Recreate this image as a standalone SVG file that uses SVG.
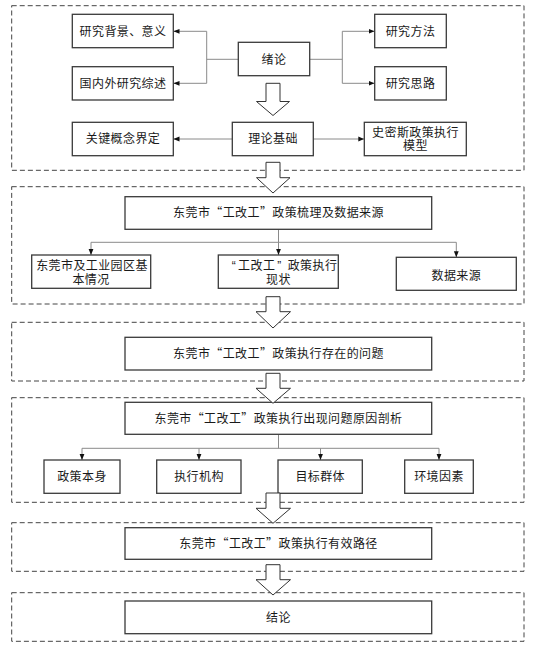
<svg xmlns="http://www.w3.org/2000/svg" width="548" height="652" viewBox="0 0 548 652">
<style>
.sec{fill:none;stroke:#444;stroke-width:1;stroke-dasharray:5 3}
.box{fill:#fff;stroke:#3a3a3a;stroke-width:1.3}
.t{font-family:"Noto Sans CJK SC","Noto Sans",sans-serif;font-size:12px;fill:#1a1a1a;text-anchor:middle;letter-spacing:0.4px}
.t2{font-family:"Liberation Sans","Noto Sans CJK SC",sans-serif;font-size:12px;fill:#1a1a1a;text-anchor:middle;letter-spacing:0.4px}
.c{fill:none;stroke:#8a8a8a;stroke-width:1}
.big{fill:#fff;stroke:#333;stroke-width:1}
</style>
<defs>
<marker id="ah" markerUnits="userSpaceOnUse" markerWidth="6" markerHeight="6" viewBox="0 0 6 6" refX="6" refY="3" orient="auto">
<path d="M0,0.6 L6,3 L0,5.4 Z" fill="#111"/>
</marker>
</defs>
<rect fill="#fff" width="548" height="652"/>
<g id="sections">
<rect class="sec" x="11.7" y="5.7" width="512.3" height="164.6"/>
<rect class="sec" x="11.7" y="186.7" width="512.3" height="117.3"/>
<rect class="sec" x="11.7" y="322.3" width="512.3" height="58.7"/>
<rect class="sec" x="11.7" y="397.7" width="512.3" height="104.6"/>
<rect class="sec" x="11.7" y="522.7" width="512.3" height="48.6"/>
<rect class="sec" x="11.7" y="592.7" width="512.3" height="48.6"/>
</g>
<g id="connectors">
<path class="c" d="M238.3,59.3 H206.7"/>
<path class="c" d="M206.7,31.3 V83.3"/>
<path class="c" d="M206.7,31.3 H173.5" marker-end="url(#ah)"/>
<path class="c" d="M206.7,83.3 H173.5" marker-end="url(#ah)"/>
<path class="c" d="M309.7,59.3 H342.3"/>
<path class="c" d="M342.3,31.3 V83.3"/>
<path class="c" d="M342.3,31.3 H374.5" marker-end="url(#ah)"/>
<path class="c" d="M342.3,83.3 H374.5" marker-end="url(#ah)"/>
<path class="c" d="M232.3,139 H173.5" marker-end="url(#ah)"/>
<path class="c" d="M313.3,139 H364.3" marker-end="url(#ah)"/>
<path class="c" d="M278.5,229.3 V242.3"/>
<path class="c" d="M91,242.3 H456.3"/>
<path class="c" d="M91,242.3 V255" marker-end="url(#ah)"/>
<path class="c" d="M278.5,242.3 V255" marker-end="url(#ah)"/>
<path class="c" d="M456.3,242.3 V257.3" marker-end="url(#ah)"/>
<path class="c" d="M278.5,434.3 V448.3"/>
<path class="c" d="M82,448.3 H439"/>
<path class="c" d="M82,448.3 V460" marker-end="url(#ah)"/>
<path class="c" d="M199,448.3 V460" marker-end="url(#ah)"/>
<path class="c" d="M320.5,448.3 V460" marker-end="url(#ah)"/>
<path class="c" d="M439,448.3 V460" marker-end="url(#ah)"/>
</g>
<g id="n-bg"><rect class="box" x="72.3" y="14.3" width="101" height="33.4"/><text class="t" x="123" y="35.5">研究背景、意义</text></g>
<g id="n-lit"><rect class="box" x="72.3" y="66.7" width="101" height="33.3"/><text class="t" x="123" y="87.6">国内外研究综述</text></g>
<g id="n-intro"><rect class="box" x="238.3" y="42.3" width="71.4" height="33.4"/><text class="t" x="274" y="63.6">绪论</text></g>
<g id="n-method"><rect class="box" x="374.7" y="14.3" width="71.6" height="33.4"/><text class="t" x="410.5" y="35.5">研究方法</text></g>
<g id="n-idea"><rect class="box" x="374.7" y="66.7" width="71.6" height="33.3"/><text class="t" x="410.5" y="87.6">研究思路</text></g>
<g id="n-concept"><rect class="box" x="72.3" y="122.3" width="101" height="33.4"/><text class="t" x="123" y="143.4">关键概念界定</text></g>
<g id="n-theory"><rect class="box" x="232.3" y="122.3" width="81" height="33.4"/><text class="t" x="273" y="143.4">理论基础</text></g>
<g id="n-smith"><rect class="box" x="364.3" y="122.3" width="102" height="33.4"/><text class="t2" x="415.5" y="136.6">史密斯政策执行</text><text class="t2" x="415.5" y="150.3">模型</text></g>
<g id="n-policy"><rect class="box" x="125" y="196.7" width="306.7" height="32.6"/><text class="t" x="278.5" y="217.2">东莞市“工改工”政策梳理及数据来源</text></g>
<g id="n-city"><rect class="box" x="31.7" y="255" width="119" height="33.3"/><text class="t2" x="92" y="270.2">东莞市及工业园区基</text><text class="t2" x="91" y="283.8">本情况</text></g>
<g id="n-status"><rect class="box" x="218.3" y="255" width="120" height="33.3"/><text class="t2" x="278.5" y="270.2" dx="6 2 0 0 2 6 0 0 0">“工改工”政策执行</text><text class="t2" x="278.5" y="283.8">现状</text></g>
<g id="n-data"><rect class="box" x="396.3" y="257.3" width="120" height="33"/><text class="t" x="456.3" y="279.8">数据来源</text></g>
<g id="n-problem"><rect class="box" x="125" y="337.3" width="306.7" height="32.7"/><text class="t" x="278.5" y="357.8">东莞市“工改工”政策执行存在的问题</text></g>
<g id="n-cause"><rect class="box" x="125" y="402.3" width="306.7" height="32"/><text class="t" x="278.5" y="422.5">东莞市“工改工”政策执行出现问题原因剖析</text></g>
<g id="n-self"><rect class="box" x="44" y="460" width="76" height="33.3"/><text class="t" x="82" y="480.8">政策本身</text></g>
<g id="n-org"><rect class="box" x="156.7" y="460" width="84.3" height="33.3"/><text class="t" x="199" y="480.8">执行机构</text></g>
<g id="n-target"><rect class="box" x="278" y="460" width="84.3" height="33.3"/><text class="t" x="320.2" y="480.8">目标群体</text></g>
<g id="n-env"><rect class="box" x="404.7" y="460" width="68.6" height="33.3"/><text class="t" x="439" y="480.8">环境因素</text></g>
<g id="n-path"><rect class="box" x="125" y="527.7" width="306.7" height="31.6"/><text class="t" x="278.5" y="547.7">东莞市“工改工”政策执行有效路径</text></g>
<g id="n-concl"><rect class="box" x="125" y="601" width="306.7" height="32.7"/><text class="t" x="278.5" y="621.5">结论</text></g>
<g id="flow-arrows">
<path class="big" d="M266,83.3 H280 V101.5 H289.5 L273,115.5 L256.5,101.5 H266 Z"/>
<path class="big" d="M266,162.3 H280 V177.7 H290 L273,193 L256.5,177.7 H266 Z"/>
<path class="big" d="M266,296.7 H280 V311.7 H290.5 L273,328 L256,311.7 H266 Z"/>
<path class="big" d="M266,373.3 H280 V388.3 H290.5 L273,403.3 L256,388.3 H266 Z"/>
<path class="big" d="M266,493 H280 V508.3 H290.5 L273,523.3 L256,508.3 H266 Z"/>
<path class="big" d="M266,564.7 H280 V579.7 H290.5 L273,595 L256,579.7 H266 Z"/>
</g>
</svg>
